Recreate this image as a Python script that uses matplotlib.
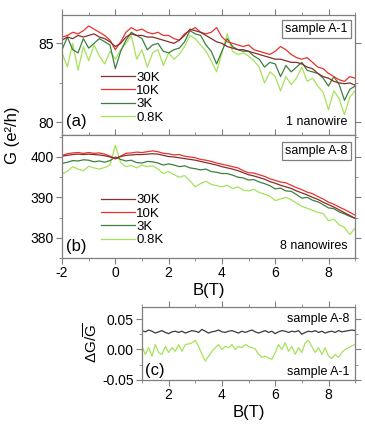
import numpy as np
import matplotlib
matplotlib.use('Agg')
import matplotlib.pyplot as plt
from matplotlib.ticker import MultipleLocator, FormatStrFormatter

plt.rcParams['font.family'] = ['Liberation Sans', 'DejaVu Sans']
plt.rcParams['mathtext.fontset'] = 'custom'
plt.rcParams['mathtext.rm'] = 'Liberation Sans'
plt.rcParams['mathtext.it'] = 'Liberation Sans'
plt.rcParams['axes.unicode_minus'] = False

#---------------------------------#
#   field axis for panels (a),(b)
#---------------------------------#
B = [-2.0, -1.8, -1.6, -1.4, -1.2, -1.0, -0.8, -0.6, -0.4, -0.2,
     0.0, 0.2, 0.4, 0.6, 0.8, 1.0, 1.2, 1.4, 1.6, 1.8,
     2.0, 2.2, 2.4, 2.6, 2.8, 3.0, 3.2, 3.4, 3.6, 3.8,
     4.0, 4.2, 4.4, 4.6, 4.8, 5.0, 5.2, 5.4, 5.6, 5.8,
     6.0, 6.2, 6.4, 6.6, 6.8, 7.0, 7.2, 7.4, 7.6, 7.8,
     8.0, 8.2, 8.4, 8.6, 8.8, 9.0]

temps = ['30K', '10K', '3K', '0.8K']
colors = ['#862d2d', '#e8332c', '#3b8040', '#a6e25a']

# sample A-1 (1 nanowire)
G_a_30K = [85.2, 85.4, 85.3, 85.5, 85.4, 85.5, 85.6, 85.4, 85.3, 85.1,
           84.8, 85.0, 85.4, 85.6, 85.5, 85.5, 85.4, 85.4, 85.3, 85.2,
           85.1, 85.0, 85.2, 85.5, 85.9, 85.8, 85.7, 85.5, 85.3, 85.1,
           85.0, 84.8, 84.7, 84.6, 84.6, 84.5, 84.4, 84.3, 84.2, 84.1,
           84.0, 84.0, 83.9, 83.8, 83.8, 83.7, 83.5, 83.4, 83.1, 82.9,
           82.8, 82.6, 82.5, 82.45, 82.5, 82.35]
G_a_10K = [85.4, 85.5, 85.7, 85.6, 85.8, 86.1, 85.9, 85.7, 85.5, 85.2,
           84.6, 85.1, 85.7, 86.0, 85.8, 85.9, 85.7, 85.6, 85.7, 85.5,
           85.5, 85.3, 85.2, 85.6, 85.8, 86.0, 85.7, 85.6, 85.7, 86.0,
           85.4, 85.1, 85.0, 84.9, 84.8, 84.9, 84.6, 84.5, 84.4, 84.3,
           84.5, 84.8, 84.6, 84.3, 84.1, 84.0, 84.1, 83.8, 83.5, 83.4,
           83.1, 82.9, 82.7, 82.6, 82.9, 82.8]
G_a_3K = [84.6, 85.4, 84.6, 84.4, 85.3, 84.7, 85.0, 85.3, 85.1, 84.9,
          83.4, 84.5, 85.2, 85.7, 85.5, 85.3, 84.6, 84.9, 85.0, 84.5,
          84.4, 84.6, 84.7, 85.1, 85.8, 85.6, 85.5, 84.9, 84.5, 83.7,
          84.5, 85.3, 84.8, 84.6, 84.5, 84.5, 84.2, 84.0, 83.5, 83.8,
          83.7, 82.9, 83.6, 83.2, 83.5, 83.8, 83.3, 83.2, 83.1, 82.8,
          82.3, 82.9, 82.4, 81.4, 82.1, 82.3]
G_a_08K = [84.4, 83.5, 85.0, 83.3, 84.8, 83.9, 84.9, 84.2, 83.7, 84.5,
           84.0, 84.6, 85.0, 85.5, 84.0, 84.6, 83.5, 84.4, 84.6, 83.6,
           84.4, 84.0, 84.3, 84.8, 85.5, 85.3, 84.9, 84.5, 83.9, 83.2,
           84.4, 85.6, 84.5, 84.3, 84.4, 84.2, 83.9, 83.5, 82.5, 83.2,
           82.9, 82.0, 82.9, 82.4, 82.8, 83.5, 82.6, 82.8, 82.3, 81.9,
           80.8, 82.0, 81.5, 80.5, 81.6, 82.0]

# sample A-8 (8 nanowires)
G_b_30K = [400.2, 400.4, 400.6, 400.7, 400.6, 400.7, 400.6, 400.5, 400.3, 400.0,
           399.7, 400.1, 400.4, 400.5, 400.6, 400.6, 400.7, 400.8, 400.7, 400.4,
           400.1, 400.0, 399.8, 399.6, 399.4, 399.2, 398.9, 398.6, 398.3, 398.0,
           397.6, 397.3, 397.0, 396.6, 396.1, 395.6, 395.3, 394.9, 394.5, 393.9,
           393.5, 393.0, 392.6, 392.2, 391.6, 391.1, 390.6, 390.0, 389.5, 388.8,
           388.2, 387.6, 386.9, 386.2, 385.5, 384.8]
G_b_10K = [400.4, 400.8, 401.0, 401.1, 400.9, 401.1, 400.9, 401.0, 400.7, 400.2,
           399.5, 400.2, 400.9, 401.0, 401.2, 401.1, 401.3, 401.5, 401.3, 400.9,
           400.8, 400.5, 400.6, 400.2, 400.0, 399.8, 399.4, 399.2, 398.9, 398.5,
           398.2, 397.9, 397.6, 397.3, 396.6, 396.1, 396.0, 395.6, 395.2, 394.6,
           394.2, 393.8, 393.6, 393.0, 392.4, 391.9, 391.3, 390.9, 390.2, 389.6,
           388.8, 388.3, 387.6, 387.0, 386.3, 385.6]
G_b_3K = [398.4, 398.7, 399.1, 399.0, 399.3, 399.2, 398.8, 399.0, 398.7, 399.1,
          400.0, 399.4, 399.0, 399.2, 398.6, 398.5, 398.9, 398.8, 398.5, 398.0,
          398.3, 398.0, 397.6, 397.8, 397.3, 397.1, 396.8, 397.0, 396.4, 396.2,
          395.9, 395.9, 395.5, 395.0, 394.8, 394.3, 394.4, 393.8, 393.4, 392.9,
          392.1, 392.3, 391.6, 391.5, 390.7, 389.8, 390.0, 389.3, 388.9, 388.2,
          387.4, 387.2, 386.4, 385.9, 385.3, 384.8]
G_b_08K = [395.8, 396.5, 397.6, 397.0, 396.6, 397.7, 397.3, 397.0, 397.4, 398.0,
           402.9, 398.6, 397.6, 397.9, 397.3, 398.0, 397.6, 397.8, 397.0, 395.9,
           396.4, 395.6, 395.0, 395.4, 394.1, 392.6, 393.4, 394.0, 393.2, 392.9,
           392.6, 393.0, 392.2, 392.6, 391.8, 391.6, 392.0, 391.2, 390.8, 390.3,
           389.2, 389.6, 390.0, 389.4, 388.6, 387.8, 387.3, 386.8, 386.3, 386.0,
           384.2, 384.6, 383.2, 382.6, 380.8, 382.4]

#---------------------------------#
#   panel (c): relative fluctuation
#---------------------------------#
B_c = [1.0, 1.125, 1.25, 1.375, 1.5, 1.625, 1.75, 1.875,
       2.0, 2.125, 2.25, 2.375, 2.5, 2.625, 2.75, 2.875,
       3.0, 3.125, 3.25, 3.375, 3.5, 3.625, 3.75, 3.875,
       4.0, 4.125, 4.25, 4.375, 4.5, 4.625, 4.75, 4.875,
       5.0, 5.125, 5.25, 5.375, 5.5, 5.625, 5.75, 5.875,
       6.0, 6.125, 6.25, 6.375, 6.5, 6.625, 6.75, 6.875,
       7.0, 7.125, 7.25, 7.375, 7.5, 7.625, 7.75, 7.875,
       8.0, 8.125, 8.25, 8.375, 8.5, 8.625, 8.75, 8.875,
       9.0]
dG_A8 = [0.031, 0.029, 0.032, 0.030, 0.027, 0.029, 0.031, 0.028, 0.026, 0.029,
         0.030, 0.028, 0.030, 0.027, 0.029, 0.031, 0.030, 0.028, 0.033, 0.030,
         0.027, 0.029, 0.030, 0.032, 0.029, 0.028, 0.030, 0.031, 0.029, 0.027,
         0.030, 0.028, 0.030, 0.032, 0.029, 0.027, 0.029, 0.031, 0.028, 0.030,
         0.026, 0.029, 0.031, 0.030, 0.028, 0.030, 0.029, 0.031, 0.025, 0.028,
         0.030, 0.029, 0.031, 0.028, 0.030, 0.027, 0.029, 0.030, 0.028, 0.031,
         0.029, 0.030, 0.031, 0.032, 0.031]
dG_A1 = [0.005, -0.008, 0.003, -0.011, 0.008, -0.005, -0.008, 0.005,
         -0.005, 0.003, -0.003, 0.008, -0.003, 0.008, 0.009, 0.011,
         0.015, 0.005, -0.008, -0.019, -0.011, -0.003, 0.003, 0.008,
         0.000, 0.005, 0.003, 0.008, 0.000, 0.005, 0.003, 0.008,
         0.005, 0.003, 0.001, -0.008, -0.013, -0.011, -0.014, -0.016,
         -0.005, 0.008, 0.000, 0.011, -0.003, 0.005, -0.008, 0.003,
         -0.005, 0.011, 0.015, 0.005, -0.005, 0.003, -0.008, 0.003,
         -0.011, -0.015, -0.008, -0.013, -0.005, 0.000, 0.003, 0.006,
         0.008]

spine_col = '#7f7f7f'


def style_axis(ax):
    for s in ax.spines.values():
        s.set_color(spine_col)
        s.set_linewidth(0.9)
    ax.tick_params(which='both', direction='out', color=spine_col,
                   labelsize=10, pad=2)
    ax.tick_params(which='major', length=4)
    ax.tick_params(which='minor', length=2.5)
    ax.tick_params(which='both', top=True, right=True)


fig = plt.figure(figsize=(3.65, 4.25), dpi=100)
ax_a = fig.add_axes([0.170, 0.682, 0.803, 0.283])
ax_b = fig.add_axes([0.170, 0.393, 0.803, 0.289])
ax_c = fig.add_axes([0.389, 0.106, 0.584, 0.172])

series_a = [G_a_30K, G_a_10K, G_a_3K, G_a_08K]
series_b = [G_b_30K, G_b_10K, G_b_3K, G_b_08K]

# draw low-T curves first so 30K sits on top
order = [3, 2, 1, 0]
for i in order:
    ax_a.plot(B, series_a[i], color=colors[i], lw=0.9, label=temps[i])
    ax_b.plot(B, series_b[i], color=colors[i], lw=0.9, label=temps[i])

for ax in (ax_a, ax_b):
    ax.set_xlim(-2, 9)
    ax.xaxis.set_major_locator(MultipleLocator(2))
    ax.xaxis.set_minor_locator(MultipleLocator(1))
    style_axis(ax)
    h, l = ax.get_legend_handles_labels()
    ax.legend(h[::-1], l[::-1], loc='lower left', bbox_to_anchor=(0.1, 0.02),
              frameon=False, fontsize=9.5, handlelength=2.6,
              handletextpad=0.1, labelspacing=0.08, borderpad=0.2)

ax_a.set_ylim(79.2, 86.8)
ax_a.yaxis.set_major_locator(MultipleLocator(5))
ax_a.yaxis.set_minor_locator(MultipleLocator(2.5))
ax_a.tick_params(labelbottom=False)

ax_b.set_ylim(375, 405.4)
ax_b.yaxis.set_major_locator(MultipleLocator(10))
ax_b.yaxis.set_minor_locator(MultipleLocator(5))
ax_b.set_xlabel('B(T)', fontsize=12, labelpad=2)

box = dict(boxstyle='square,pad=0.25', fc='white', ec=spine_col, lw=0.9)
ax_a.text(0.975, 0.93, 'sample A-1', transform=ax_a.transAxes, ha='right',
          va='top', fontsize=9, bbox=box)
ax_a.text(0.975, 0.06, '1 nanowire', transform=ax_a.transAxes, ha='right',
          va='bottom', fontsize=9)
ax_a.text(0.015, 0.05, '(a)', transform=ax_a.transAxes, ha='left',
          va='bottom', fontsize=12)

ax_b.text(0.975, 0.92, 'sample A-8', transform=ax_b.transAxes, ha='right',
          va='top', fontsize=9, bbox=box)
ax_b.text(0.975, 0.05, '8 nanowires', transform=ax_b.transAxes, ha='right',
          va='bottom', fontsize=9)
ax_b.text(0.015, 0.03, '(b)', transform=ax_b.transAxes, ha='left',
          va='bottom', fontsize=12)

fig.text(0.035, 0.682, 'G (e²/h)', rotation=90, ha='center', va='center',
         fontsize=12)

# panel (c)
ax_c.plot(B_c, dG_A1, color=colors[3], lw=0.9)
ax_c.plot(B_c, dG_A8, color='#3a3a3a', lw=0.9)
ax_c.set_xlim(1, 9)
ax_c.set_ylim(-0.05, 0.07)
ax_c.xaxis.set_major_locator(MultipleLocator(2))
ax_c.xaxis.set_minor_locator(MultipleLocator(1))
ax_c.yaxis.set_major_locator(MultipleLocator(0.05))
ax_c.yaxis.set_minor_locator(MultipleLocator(0.025))
ax_c.yaxis.set_major_formatter(FormatStrFormatter('%.2f'))
style_axis(ax_c)
ax_c.set_xlabel('B(T)', fontsize=12, labelpad=2)
ax_c.set_ylabel(r'$\Delta G/\overline{G}$', fontsize=11, labelpad=1)
ax_c.text(0.975, 0.83, 'sample A-8', transform=ax_c.transAxes, ha='right',
          va='center', fontsize=9)
ax_c.text(0.975, 0.11, 'sample A-1', transform=ax_c.transAxes, ha='right',
          va='center', fontsize=9)
ax_c.text(0.015, 0.03, '(c)', transform=ax_c.transAxes, ha='left',
          va='bottom', fontsize=12)

fig.savefig('out.png', dpi=100)
